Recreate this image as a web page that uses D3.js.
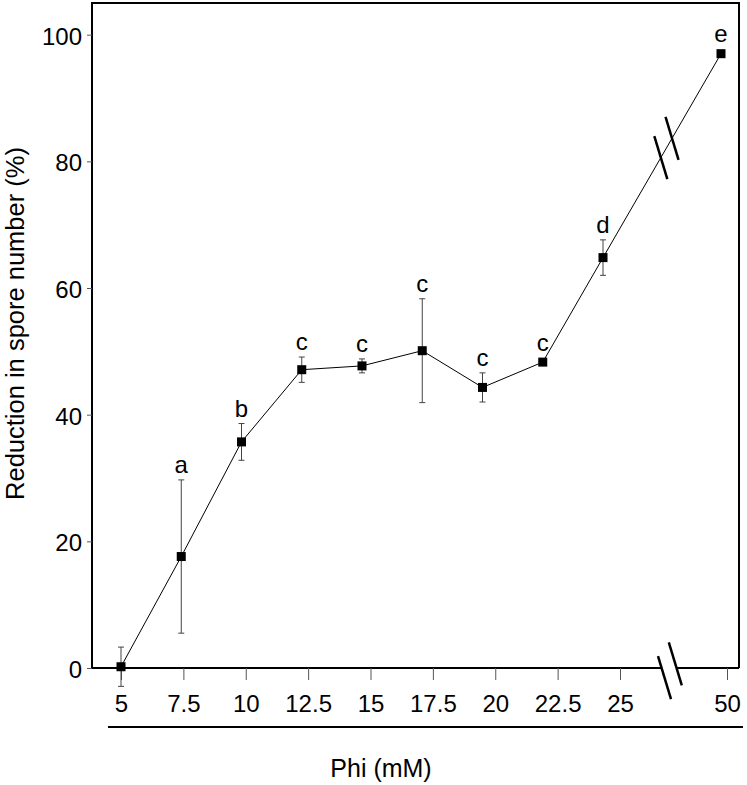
<!DOCTYPE html>
<html>
<head>
<meta charset="utf-8">
<script src="https://cdn.jsdelivr.net/npm/d3@7"></script>
<style>
    body { margin: 0; background: #fff; }
    text { font-family: "Liberation Sans", Arial, sans-serif; fill: #000; }
</style>
</head>
<body>
<div id="chart"></div>
<script>
// Phi concentration (mM) and mean reduction in spore number (%)
const phi = [5, 7.5, 10, 12.5, 15, 17.5, 20, 22.5, 25, 50];
const reduction = [0.2, 17.6, 35.7, 47.1, 47.7, 50.1, 44.3, 48.3, 64.8, 97.0];
const errors = [3.1, 12.1, 2.9, 2.0, 1.1, 8.2, 2.3, 0.5, 2.8, 0.3];
const letters = ["", "a", "b", "c", "c", "c", "c", "c", "d", "e"];
const yTicks = [0, 20, 40, 60, 80, 100];
const xTickLabels = ["5", "7.5", "10", "12.5", "15", "17.5", "20", "22.5", "25", "50"];

const width = 747, height = 785;
const box = { left: 92, right: 739, top: 3, bottom: 668 };

const svg = d3.select("#chart").append("svg")
    .attr("width", width)
    .attr("height", height);

// y scale (top of the frame is 105 %)
const y = d3.scaleLinear().domain([0, 105]).range([box.bottom, box.top]);

// broken x axis: 5..25 linear, then jump to 50
const xTick = d3.scaleLinear().domain([5, 25, 50]).range([121, 620, 727]);
// the data points sit on a slightly tighter grid than the tick marks
const xPoint = d3.scaleLinear().domain([5, 25, 50]).range([121, 603, 721]);

// frame: left, top, right
svg.append("path")
    .attr("d", `M${box.left},${box.bottom}V${box.top}H${box.right}V${box.bottom}`)
    .attr("fill", "none")
    .attr("stroke", "#000")
    .attr("stroke-width", 2);

// bottom axis line, interrupted at the break
const gapL = 661, gapR = 677;
svg.append("path")
    .attr("d", `M${box.left},${box.bottom}H${gapL}M${gapR},${box.bottom}H${box.right}`)
    .attr("stroke", "#000")
    .attr("stroke-width", 2);

// y axis
const yAxis = svg.append("g")
    .attr("transform", `translate(${box.left},0)`)
    .call(d3.axisLeft(y).tickValues(yTicks).tickSize(5).tickPadding(5));
yAxis.select(".domain").remove();
yAxis.selectAll(".tick line").attr("stroke", "#555");
yAxis.selectAll(".tick text")
    .attr("font-size", 24)
    .attr("dy", "0.4em")
    .attr("fill", "#000");

// x axis ticks
const xAxis = svg.append("g")
    .attr("transform", `translate(0,${box.bottom})`)
    .call(d3.axisBottom(xTick).tickValues(phi).tickSize(12).tickPadding(15)
        .tickFormat((d, i) => xTickLabels[i]));
xAxis.select(".domain").remove();
xAxis.selectAll(".tick line").attr("stroke", "#555").attr("stroke-width", 1);
xAxis.selectAll(".tick text")
    .attr("font-size", 24)
    .attr("fill", "#000");

// underline below tick labels
svg.append("line")
    .attr("x1", 108).attr("x2", 743)
    .attr("y1", 727).attr("y2", 727)
    .attr("stroke", "#000")
    .attr("stroke-width", 2);

// axis titles
svg.append("text")
    .attr("transform", `translate(24,${(145 + 502) / 2}) rotate(-90)`)
    .attr("text-anchor", "middle")
    .attr("font-size", 25.5)
    .text("Reduction in spore number (%)");

svg.append("text")
    .attr("x", 381)
    .attr("y", 777)
    .attr("text-anchor", "middle")
    .attr("font-size", 25)
    .text("Phi (mM)");

// error bars
const cap = 3;
const err = svg.append("g").attr("stroke", "#444").attr("stroke-width", 1);
phi.forEach((p, i) => {
    const cx = xPoint(p);
    const yHi = y(reduction[i] + errors[i]);
    const yLo = y(reduction[i] - errors[i]);
    err.append("path")
        .attr("d", `M${cx},${yHi}V${yLo}M${cx - cap},${yHi}H${cx + cap}M${cx - cap},${yLo}H${cx + cap}`)
        .attr("fill", "none");
});

// connecting line
const line = d3.line()
    .x((d, i) => xPoint(phi[i]))
    .y(d => y(d));
svg.append("path")
    .datum(reduction)
    .attr("d", line)
    .attr("fill", "none")
    .attr("stroke", "#000")
    .attr("stroke-width", 1);

// markers
const size = 9;
svg.append("g").selectAll("rect")
    .data(reduction)
    .join("rect")
    .attr("x", (d, i) => xPoint(phi[i]) - size / 2)
    .attr("y", d => y(d) - size / 2)
    .attr("width", size)
    .attr("height", size)
    .attr("fill", "#000");

// significance letters
svg.append("g").selectAll("text")
    .data(letters)
    .join("text")
    .attr("x", (d, i) => xPoint(phi[i]))
    .attr("y", (d, i) => Math.min(y(reduction[i] + errors[i]), y(reduction[i]) - size / 2) - 7)
    .attr("text-anchor", "middle")
    .attr("font-size", 24)
    .text(d => d);

// break marks: "\\" pairs
function breakMark(cx, cy) {
    svg.append("line")
        .attr("x1", cx - 6.5).attr("y1", cy - 21.5)
        .attr("x2", cx + 6.5).attr("y2", cy + 21.5)
        .attr("stroke", "#000")
        .attr("stroke-width", 2.5);
}
// on the data line between 25 and 50
const p0 = [xPoint(25), y(reduction[8])], p1 = [xPoint(50), y(reduction[9])];
[0.49, 0.585].forEach(t => {
    breakMark(p0[0] + (p1[0] - p0[0]) * t, p0[1] + (p1[1] - p0[1]) * t);
});
// on the x axis
breakMark(664.5, 677.7);
breakMark(675.3, 663.8);
</script>
</body>
</html>
